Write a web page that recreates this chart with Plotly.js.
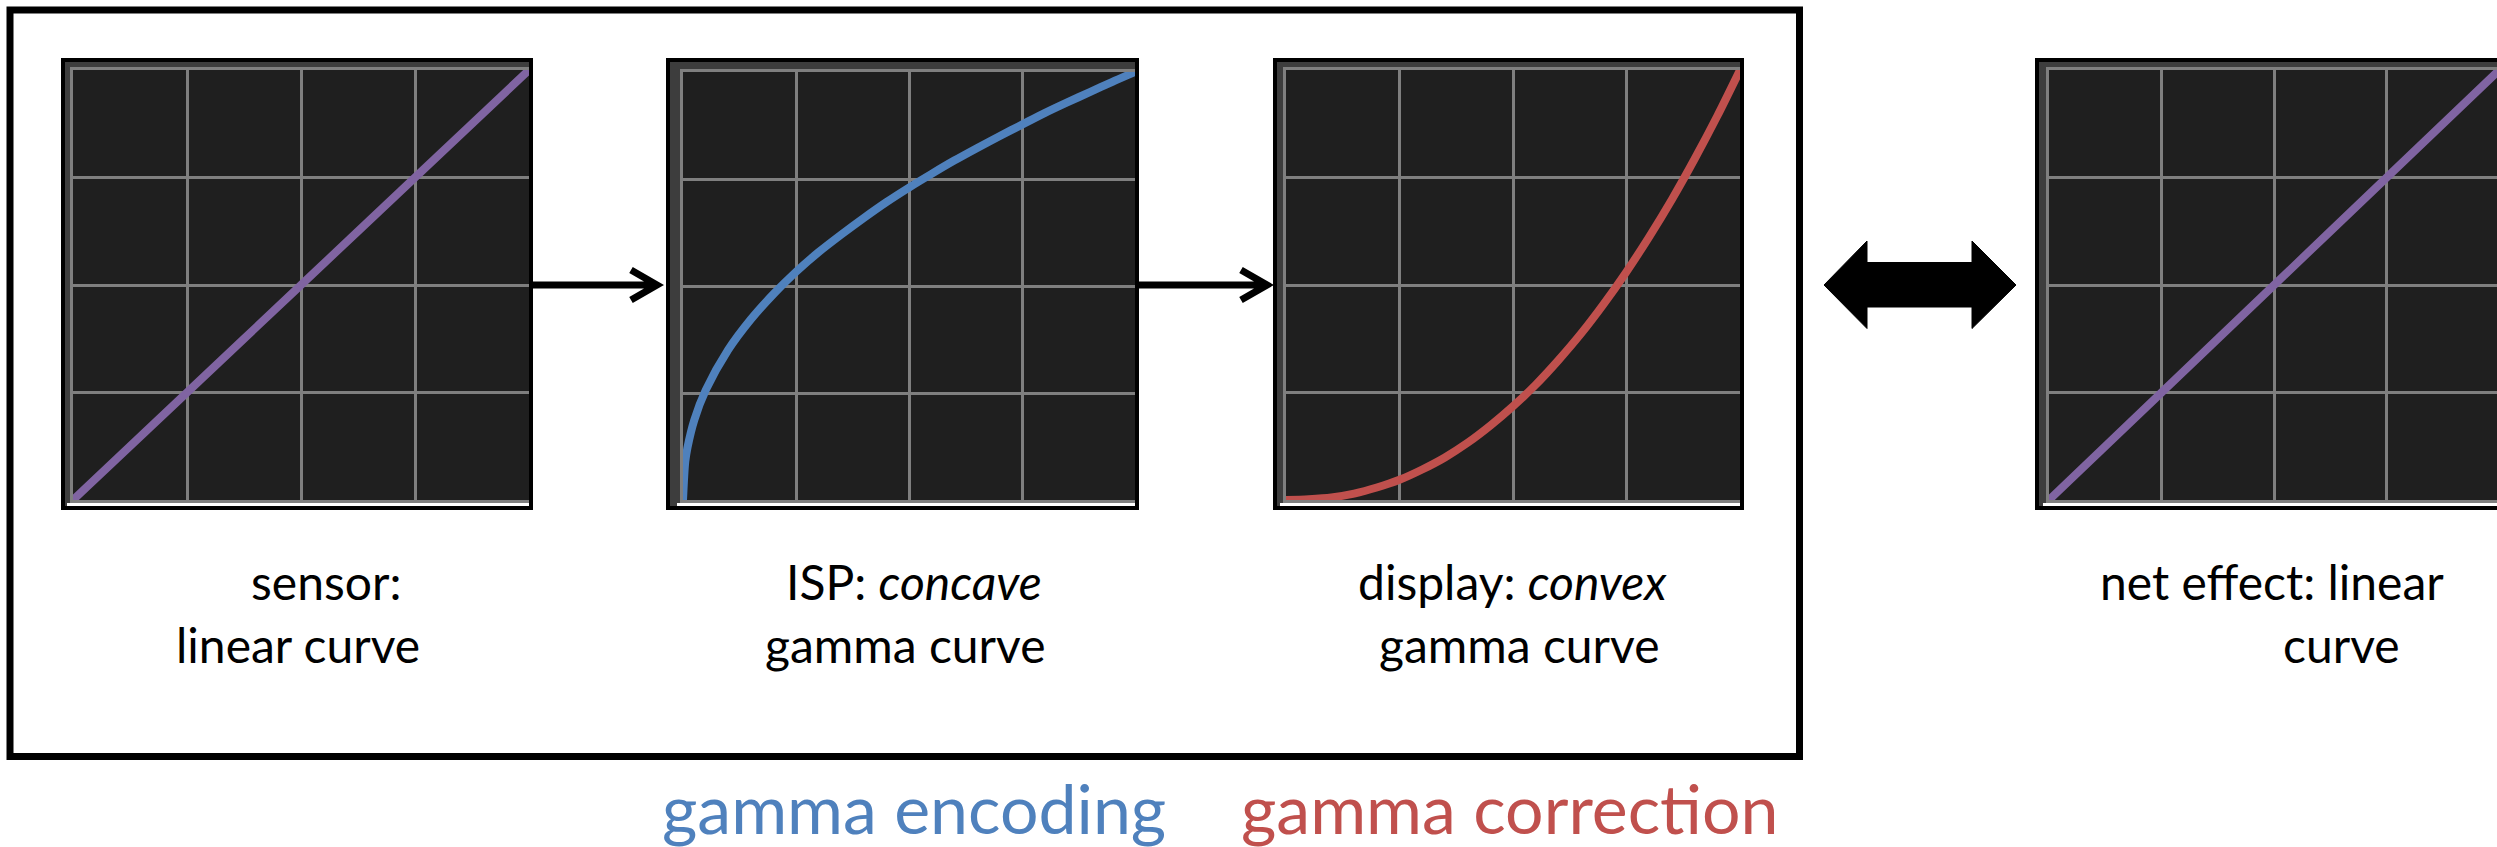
<!DOCTYPE html>
<html><head><meta charset="utf-8">
<script src="https://cdn.plot.ly/plotly-3.0.1.min.js"></script>
<style>html,body{margin:0;padding:0;background:#fff;overflow:hidden}</style>
</head><body>
<div id="chart" style="width:2497px;height:847px"></div>
<script>
// ---- data ----
const sensorX = [0, 0.25, 0.5, 0.75, 1];
const sensorY = [0, 0.25, 0.5, 0.75, 1];
const ispX = [0, 0.005, 0.01, 0.025, 0.05, 0.1, 0.15, 0.2, 0.25, 0.3, 0.35, 0.4, 0.45, 0.5,
              0.55, 0.6, 0.65, 0.7, 0.75, 0.8, 0.85, 0.9, 0.95, 1];
const ispY = [0, 0.090, 0.123, 0.187, 0.256, 0.351, 0.422, 0.481, 0.533, 0.579, 0.620, 0.659, 0.696, 0.730,
              0.762, 0.793, 0.822, 0.850, 0.877, 0.904, 0.929, 0.953, 0.977, 1];
const displayX = [0, 0.05, 0.1, 0.15, 0.2, 0.25, 0.3, 0.35, 0.4, 0.45, 0.5, 0.55, 0.6, 0.65,
                  0.7, 0.75, 0.8, 0.85, 0.9, 0.95, 1];
const displayY = [0, 0.002, 0.006, 0.015, 0.029, 0.047, 0.071, 0.099, 0.133, 0.173, 0.218, 0.268,
                  0.325, 0.387, 0.456, 0.531, 0.612, 0.699, 0.793, 0.893, 1];
const netX = [0, 0.25, 0.5, 0.75, 1];
const netY = [0, 0.25, 0.5, 0.75, 1];
const gridTicks = [0.25, 0.5, 0.75];
const captionLines = ["sensor:", "linear curve", "ISP: <i>concave</i>", "gamma curve",
                      "display: <i>convex</i>", "gamma curve", "net effect: linear", "curve"];
const groupLabels = ["gamma encoding", "gamma correction"];

// ---- layout geometry (pixels) ----
const W = 2497, H = 847;
const px = x => x / W;
const py = y => 1 - y / H;
// border rect centre-lines and plot interiors
const panels = [
  {bx0: 63, bx1: 531, ix0: 73, ix1: 529, iy0: 70, iy1: 500, xr: [0, 1]},
  {bx0: 668, bx1: 1137, ix0: 683, ix1: 1135, iy0: 72, iy1: 500, xr: [0, 1]},
  {bx0: 1275, bx1: 1742, ix0: 1286, ix1: 1740, iy0: 70, iy1: 500, xr: [0, 1]},
  {bx0: 2037, bx1: 2530, ix0: 2049, ix1: 2497, iy0: 70, iy1: 500, xr: [0, 0.995]}
];
const colors = ['#8064A2', '#4F81BD', '#C0504D', '#8064A2'];
const series = [[sensorX, sensorY], [ispX, ispY], [displayX, displayY], [netX, netY]];

const traces = series.map((s, i) => ({
  x: s[0], y: s[1], type: 'scatter', mode: 'lines',
  xaxis: i === 0 ? 'x' : 'x' + (i + 1), yaxis: i === 0 ? 'y' : 'y' + (i + 1),
  line: {color: colors[i], width: 8, shape: 'spline', smoothing: 0.8},
  hoverinfo: 'skip'
}));

const layout = {
  width: W, height: H, margin: {l: 0, r: 0, t: 0, b: 0, pad: 0},
  paper_bgcolor: '#ffffff', plot_bgcolor: 'rgba(0,0,0,0)', showlegend: false,
  shapes: [], annotations: []
};

panels.forEach((p, i) => {
  const sx = i === 0 ? '' : String(i + 1);
  layout['xaxis' + sx] = {
    domain: [px(p.ix0), Math.min(1, px(p.ix1))], range: p.xr, anchor: 'y' + sx,
    tickvals: gridTicks, showticklabels: false, ticks: '',
    showgrid: true, gridcolor: '#7f7f7f', gridwidth: 3,
    showline: true, mirror: true, linecolor: '#7f7f7f', linewidth: 3,
    zeroline: false, fixedrange: true
  };
  layout['yaxis' + sx] = {
    domain: [py(p.iy1), py(p.iy0)], range: [0, 1], anchor: 'x' + sx,
    tickvals: gridTicks, showticklabels: false, ticks: '',
    showgrid: true, gridcolor: '#7f7f7f', gridwidth: 3,
    showline: true, mirror: false, linecolor: '#7f7f7f', linewidth: 3,
    zeroline: false, fixedrange: true
  };
  // black border with dark frame
  layout.shapes.push({type: 'rect', xref: 'paper', yref: 'paper', layer: 'below',
    x0: px(p.bx0), x1: px(p.bx1), y0: py(508), y1: py(60),
    line: {color: '#000', width: 4}, fillcolor: '#3d3d3d'});
  // white strip under the bottom edge
  layout.shapes.push({type: 'rect', xref: 'paper', yref: 'paper', layer: 'below',
    x0: px(p.ix0 - 6), x1: px(p.ix1), y0: py(506), y1: py(503),
    line: {width: 0}, fillcolor: '#ffffff'});
  // plot interior
  layout.shapes.push({type: 'rect', xref: 'paper', yref: 'paper', layer: 'below',
    x0: px(p.ix0), x1: px(p.ix1), y0: py(p.iy1), y1: py(p.iy0),
    line: {width: 0}, fillcolor: '#1f1f1f'});
});

// outer box
layout.shapes.push({type: 'rect', xref: 'paper', yref: 'paper', layer: 'above',
  x0: px(10), x1: px(1799.5), y0: py(756.5), y1: py(10),
  line: {color: '#000', width: 7}});

// single arrows
function arrowPath(x0, x1, y) {
  return 'M' + px(x0) + ',' + py(y) + ' L' + px(x1 - 3) + ',' + py(y) +
    ' M' + px(x1 - 26) + ',' + py(y - 15) + ' L' + px(x1) + ',' + py(y) +
    ' L' + px(x1 - 26) + ',' + py(y + 15);
}
[[533, 657], [1139, 1267]].forEach(a => {
  layout.shapes.push({type: 'path', xref: 'paper', yref: 'paper', layer: 'above',
    path: arrowPath(a[0], a[1], 285), line: {color: '#000', width: 7}});
});
// double arrow
const dbl = [[1824, 285], [1867, 241], [1867, 262.5], [1972, 262.5], [1972, 241], [2016, 285],
             [1972, 328.5], [1972, 307], [1867, 307], [1867, 328.5]];
layout.shapes.push({type: 'path', xref: 'paper', yref: 'paper', layer: 'above',
  path: 'M' + dbl.map(p => px(p[0]) + ',' + py(p[1])).join(' L') + ' Z',
  fillcolor: '#000', line: {color: '#000', width: 1}});

// captions
const capPos = [[326, 581], [298, 644], [914, 581], [905, 644], [1512, 581], [1519, 644], [2272, 581], [2341, 644]];
captionLines.forEach((t, i) => {
  layout.annotations.push({text: t, xref: 'paper', yref: 'paper',
    x: px(capPos[i][0]), y: py(capPos[i][1]), xanchor: 'center', yanchor: 'middle',
    showarrow: false, font: {family: 'Lato, "Open Sans", sans-serif', size: 48, color: '#000'}});
});
const grpPos = [[914, 807], [1510, 807]];
const grpCol = ['#4F81BD', '#C0504D'];
groupLabels.forEach((t, i) => {
  layout.annotations.push({text: t, xref: 'paper', yref: 'paper',
    x: px(grpPos[i][0]), y: py(grpPos[i][1]), xanchor: 'center', yanchor: 'middle',
    showarrow: false, font: {family: 'Lato, "Open Sans", sans-serif', size: 68, color: grpCol[i]}});
});

Plotly.newPlot('chart', traces, layout, {staticPlot: true, displayModeBar: false});
</script>
</body></html>
